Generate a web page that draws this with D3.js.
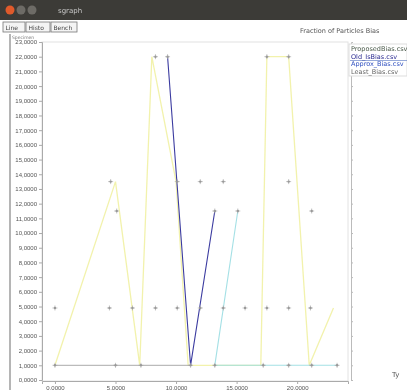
<!DOCTYPE html>
<html>
<head>
<meta charset="utf-8">
<script src="https://cdn.jsdelivr.net/npm/d3@7"></script>
<style>
  body { margin: 0; background: #fff; }
  svg { display: block; font-family: "DejaVu Sans", sans-serif; filter: blur(0.35px); }
</style>
</head>
<body>
<div id="chart"></div>
<script>
// series names (legend) and data
const seriesNames = ["ProposedBias.csv", "Old_IsBias.csv", "Approx_Bias.csv", "Least_Bias.csv"];

const proposedX = [0, 5, 7, 8, 10, 11, 17, 17.5, 19.3, 21, 23];
const proposedY = [1, 13.5, 1, 22, 13.5, 1, 1, 22, 22, 1, 4.9];

const oldX = [9.3, 11.2, 13.2];
const oldY = [22, 1, 11.5];

const approxX = [15.1, 13.2, 17.2, 19.3, 21.2, 23.3];
const approxY = [11.5, 1, 1, 1, 1, 1];

const leastX = [0, 5, 7.1, 11.2];
const leastY = [1, 1, 1, 1];

// loose markers
const markX = [0, 4.5, 6.4, 8.3, 10.1, 12, 13.9, 15.7, 17.5, 19.3, 21.1,
               4.6, 10.1, 12, 13.9, 19.3,
               5.1, 13.2, 15.1, 21.2,
               8.3, 9.3, 17.5, 19.3,
               0, 5, 7.1, 11.2, 13.2, 17.2, 19.3, 21.2, 23.3];
const markY = [4.9, 4.9, 4.9, 4.9, 4.9, 4.9, 4.9, 4.9, 4.9, 4.9, 4.9,
               13.5, 13.5, 13.5, 13.5, 13.5,
               11.5, 11.5, 11.5, 11.5,
               22, 22, 22, 22,
               1, 1, 1, 1, 1, 1, 1, 1, 1];

const yTicks = d3.range(0, 24);
const xTicks = [0, 5, 10, 15, 20];

const W = 407, H = 390;
const mLeft = 42, mRight = 348, mTop = 42, mBottom = 381;

const svg = d3.select('#chart').append('svg')
  .attr('width', W).attr('height', H);

// window chrome
svg.append('rect').attr('width', W).attr('height', 20).attr('fill', '#3c3b37');
svg.append('circle').attr('cx', 10).attr('cy', 10).attr('r', 4.5).attr('fill', '#e05a2b');
svg.append('circle').attr('cx', 21).attr('cy', 10).attr('r', 4.5).attr('fill', '#6d6b66');
svg.append('circle').attr('cx', 32).attr('cy', 10).attr('r', 4.5).attr('fill', '#6d6b66');
svg.append('text').attr('x', 58).attr('y', 13).attr('font-size', 7)
  .attr('fill', '#c8c8c8').text('sgraph');

const tabs = [['Line', 3, 22], ['Histo', 26, 24], ['Bench', 51, 26]];
tabs.forEach(t => {
  svg.append('rect').attr('x', t[1]).attr('y', 22).attr('width', t[2]).attr('height', 10)
    .attr('fill', '#f4f4f4').attr('stroke', '#777').attr('stroke-width', 0.8);
  svg.append('text').attr('x', t[1] + 2.5).attr('y', 29.5).attr('font-size', 6).attr('fill', '#444').text(t[0]);
});
svg.append('text').attr('x', 12).attr('y', 39).attr('font-size', 4.5).attr('fill', '#777').text('Specimen');
svg.append('line').attr('x1', 10).attr('x2', 10).attr('y1', 34).attr('y2', H)
  .attr('stroke', '#b5b5b5').attr('stroke-width', 2);

svg.append('text').attr('x', 300).attr('y', 33).attr('font-size', 6.5).attr('fill', '#555')
  .text('Fraction of Particles Bias');

const x = d3.scaleLinear().domain([-1.07, 24.2]).range([mLeft, mRight]);
const y = d3.scaleLinear().domain([0, 23]).range([380, mTop]);

// frame
svg.append('rect').attr('x', mLeft).attr('y', mTop).attr('width', mRight - mLeft).attr('height', mBottom - mTop)
  .attr('fill', 'none').attr('stroke', '#e2e2e2');

const fmt = d => d.toFixed(4).replace('.', ',');

const yAxis = svg.append('g').attr('transform', `translate(${mLeft},0)`)
  .call(d3.axisLeft(y).tickValues(yTicks).tickFormat(fmt).tickSize(3).tickPadding(2));
yAxis.selectAll('text').attr('font-size', 6).attr('fill', '#555');
yAxis.selectAll('line, path').attr('stroke', '#aaa');

const xAxis = svg.append('g').attr('transform', `translate(0,${mBottom})`)
  .call(d3.axisBottom(x).tickValues(xTicks).tickFormat(fmt).tickSize(3).tickPadding(2));
xAxis.selectAll('text').attr('font-size', 6).attr('fill', '#555');
xAxis.selectAll('line, path').attr('stroke', '#aaa');

// right axis
const rAxis = svg.append('g').attr('transform', `translate(${mRight + 3},0)`)
  .call(d3.axisRight(y).tickValues(yTicks.slice(0, 21)).tickFormat('').tickSize(2));
rAxis.selectAll('line, path').attr('stroke', '#bbb');

const line = d3.line().x(d => x(d[0])).y(d => y(d[1]));

const series = [
  { xs: proposedX, ys: proposedY, color: '#eeee90', width: 1.3, opacity: 0.75 },
  { xs: leastX, ys: leastY, color: '#aaa', width: 1, opacity: 1 },
  { xs: approxX, ys: approxY, color: '#9adde2', width: 1.1, opacity: 0.9 },
  { xs: oldX, ys: oldY, color: '#3b3ba0', width: 1.1, opacity: 1 }
];

series.forEach(s => {
  svg.append('path')
    .datum(d3.zip(s.xs, s.ys))
    .attr('d', line)
    .attr('fill', 'none')
    .attr('stroke', s.color)
    .attr('stroke-width', s.width)
    .attr('stroke-opacity', s.opacity);
});

// + markers
const marks = svg.append('g').attr('stroke', '#aaa').attr('stroke-width', 0.7);
d3.zip(markX, markY).forEach(p => {
  const cx = x(p[0]), cy = y(p[1]);
  marks.append('path').attr('d', `M${cx - 2.5},${cy}H${cx + 2.5}M${cx},${cy - 2.5}V${cy + 2.5}`);
  marks.append('circle').attr('cx', cx).attr('cy', cy).attr('r', 1.2).attr('fill', '#999').attr('stroke', 'none');
});

// legend
const legendColors = ['#4a5a4a', '#2a2a90', '#3050c0', '#666'];
const lg = svg.append('g').attr('transform', 'translate(349,44)');
lg.append('rect').attr('width', 58).attr('height', 32).attr('fill', '#fff').attr('stroke', '#ddd');
seriesNames.forEach((n, i) => {
  lg.append('text').attr('x', 2).attr('y', 7 + i * 7.5).attr('font-size', 6.5)
    .attr('fill', legendColors[i]).text(n);
});
lg.append('line').attr('x1', 1).attr('x2', 58).attr('y1', 16.5).attr('y2', 16.5).attr('stroke', '#5070c0').attr('stroke-width', 0.6);

svg.append('text').attr('x', 392).attr('y', 377).attr('font-size', 7).attr('fill', '#555').text('Ty');
</script>
</body>
</html>
